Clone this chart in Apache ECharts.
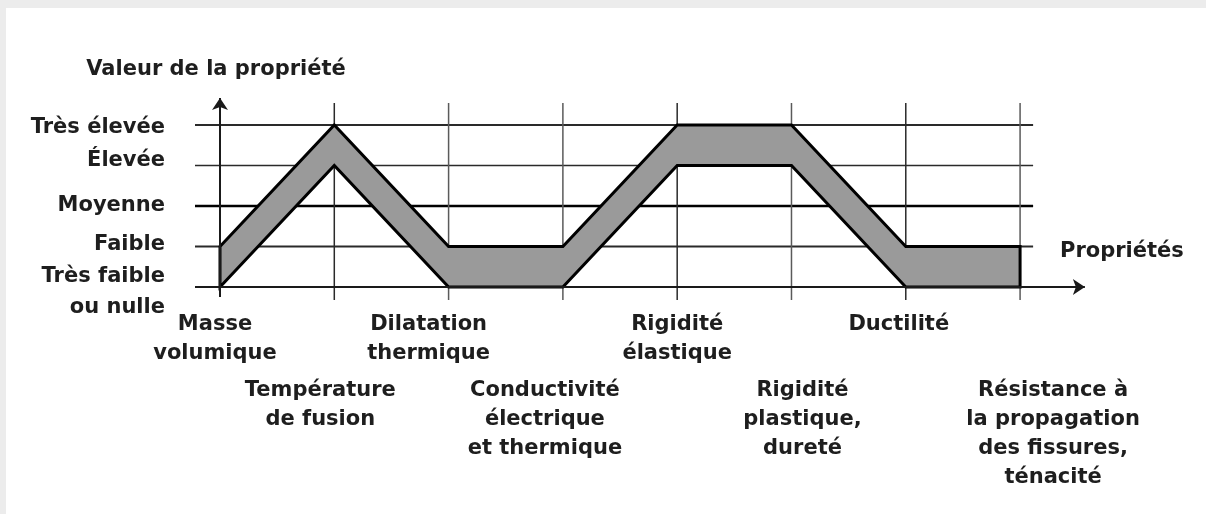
<!DOCTYPE html>
<html>
<head>
<meta charset="utf-8">
<script src="https://cdn.jsdelivr.net/npm/echarts@6/dist/echarts.min.js"></script>
<style>
  html, body { margin: 0; padding: 0; background: #ececec; }
  #chart { position: absolute; left: 6px; top: 8px; width: 1200px; height: 506px; background: #ffffff; }
</style>
</head>
<body>
<div id="chart"></div>
<script>
// ---- data ----
const categories = [
  'Masse\nvolumique',
  'Température\nde fusion',
  'Dilatation\nthermique',
  'Conductivité\nélectrique\net thermique',
  'Rigidité\nélastique',
  'Rigidité\nplastique,\ndureté',
  'Ductilité',
  'Résistance à\nla propagation\ndes fissures,\nténacité'
];
const levelLabels = ['Très faible\nou nulle', 'Faible', 'Moyenne', 'Élevée', 'Très élevée'];
const lowerBound = [0, 3, 0, 0, 3, 3, 0, 0];
const upperBound = [1, 4, 1, 1, 4, 4, 1, 1];
const yAxisTitle = 'Valeur de la propriété';
const xAxisTitle = 'Propriétés';

// ---- styling / layout helpers ----
const FONT = 'DejaVu Sans';
const TXT = '#1e1e1e';
const labelShift = [-5, -14, -20, -18, 0, 11, -7, 33];     // horizontal nudges of x labels (px)
const levelShiftUp = [0, 2, 0, 5, -3];                       // vertical nudges of y labels (px)
const X_MIN = -0.2187, X_MAX = 7.568, GRID_X_END = 7.114;
const Y_MIN = -0.321, Y_MAX = 4.667, VLINE_TOP = 4.543, YAXIS_BOTTOM = -0.25;

const chart = echarts.init(document.getElementById('chart'));

const xRich = {};
categories.forEach((c, i) => {
  const d = labelShift[i];
  xRich['c' + i] = {
    fontFamily: FONT, fontSize: 21, fontWeight: 'bold', color: TXT, lineHeight: 29,
    padding: d >= 0 ? [0, 0, 0, 2 * d] : [0, -2 * d, 0, 0]
  };
});
const yRich = {};
levelLabels.forEach((l, i) => {
  const d = levelShiftUp[i];
  yRich['y' + i] = {
    fontFamily: FONT, fontSize: 21, fontWeight: 'bold', color: TXT,
    padding: d >= 0 ? [0, 0, 2 * d, 0] : [-2 * d, 0, 0, 0]
  };
});
yRich['y0'].padding = [10, 0, 0, 0];

function xLabelFormatter(v) {
  const i = Math.round(v);
  return categories[i].split('\n').map(l => '{c' + i + '|' + l + '}').join('\n');
}

const series = [];
// horizontal grid lines (+ the two arrowed axes as markLines)
[1, 2, 3, 4].forEach((v, k) => {
  const s = {
    type: 'line', silent: true, symbol: 'none', z: 1,
    data: [[X_MIN, v], [GRID_X_END, v]],
    lineStyle: { color: v === 2 ? '#000' : '#2a2a2a', width: v === 2 ? 2.5 : (v === 3 ? 1.5 : 2) }
  };
  if (k === 0) {
    s.markLine = {
      silent: true, z: 5,
      symbol: ['none', 'arrow'],
      symbolSize: 12,
      label: { show: false },
      emphasis: { disabled: true },
      lineStyle: { type: 'solid', color: '#1a1a1a', width: 2 },
      data: [
        [{ coord: [X_MIN, 0] }, { coord: [X_MAX - 0.001, 0] }],
        [{ coord: [0, YAXIS_BOTTOM] }, { coord: [0, Y_MAX - 0.001] }]
      ]
    };
  }
  series.push(s);
});
// vertical grid lines
categories.forEach((c, i) => {
  if (i === 0) return;
  series.push({
    type: 'line', silent: true, symbol: 'none', z: 1,
    data: [[i, Y_MIN], [i, VLINE_TOP]],
    lineStyle: { color: (i === 1 || i === 4 || i === 6) ? '#2a2a2a' : '#5a5a5a', width: 1.5 }
  });
});
// the band between lower and upper bounds
series.push({
  type: 'custom', silent: true, z: 3,
  data: [[0, 0]],
  renderItem: function (params, api) {
    const pts = [];
    upperBound.forEach((v, i) => pts.push(api.coord([i, v])));
    for (let i = lowerBound.length - 1; i >= 0; i--) pts.push(api.coord([i, lowerBound[i]]));
    return {
      type: 'polygon',
      shape: { points: pts },
      style: { fill: '#9a9a9a', stroke: '#000', lineWidth: 3, lineJoin: 'miter' }
    };
  }
});

const xAxisCommon = {
  type: 'value', min: X_MIN, max: X_MAX, position: 'bottom', offset: 0,
  axisLine: { show: false, onZero: false },
  axisTick: { show: false },
  splitLine: { show: false }
};

chart.setOption({
  animation: false,
  backgroundColor: '#ffffff',
  grid: { left: 189, right: 121, top: 90, bottom: 214, containLabel: false, outerBoundsMode: 'none' },
  xAxis: [
    Object.assign({}, xAxisCommon, {
      name: xAxisTitle, nameLocation: 'end', nameGap: -25,
      nameTextStyle: { fontFamily: FONT, fontSize: 21, fontWeight: 'bold', color: TXT, align: 'left', verticalAlign: 'bottom', padding: [0, 0, 38, 0] },
      axisLabel: {
        customValues: categories.map((c, i) => i).filter(i => i % 2 === 0),
        showMinLabel: true, showMaxLabel: true, hideOverlap: false,
        margin: 10, formatter: xLabelFormatter, rich: xRich
      }
    }),
    Object.assign({}, xAxisCommon, {
      axisLabel: {
        customValues: categories.map((c, i) => i).filter(i => i % 2 === 1),
        showMinLabel: true, showMaxLabel: true, hideOverlap: false,
        margin: 76, formatter: xLabelFormatter, rich: xRich
      }
    })
  ],
  yAxis: {
    type: 'value', min: Y_MIN, max: Y_MAX,
    name: yAxisTitle, nameLocation: 'end', nameGap: 28,
    nameTextStyle: { fontFamily: FONT, fontSize: 21, fontWeight: 'bold', color: TXT, align: 'center', verticalAlign: 'middle', padding: [0, 0, 0, 42] },
    axisLine: { show: false, onZero: false },
    axisTick: { show: false },
    splitLine: { show: false },
    axisLabel: {
      customValues: levelLabels.map((l, i) => i),
      margin: 30,
      align: 'right',
      formatter: function (v) {
        const i = Math.round(v);
        return levelLabels[i].split('\n').map(l => '{y' + i + '|' + l + '}').join('\n');
      },
      rich: yRich
    }
  },
  series: series
});
</script>
</body>
</html>
